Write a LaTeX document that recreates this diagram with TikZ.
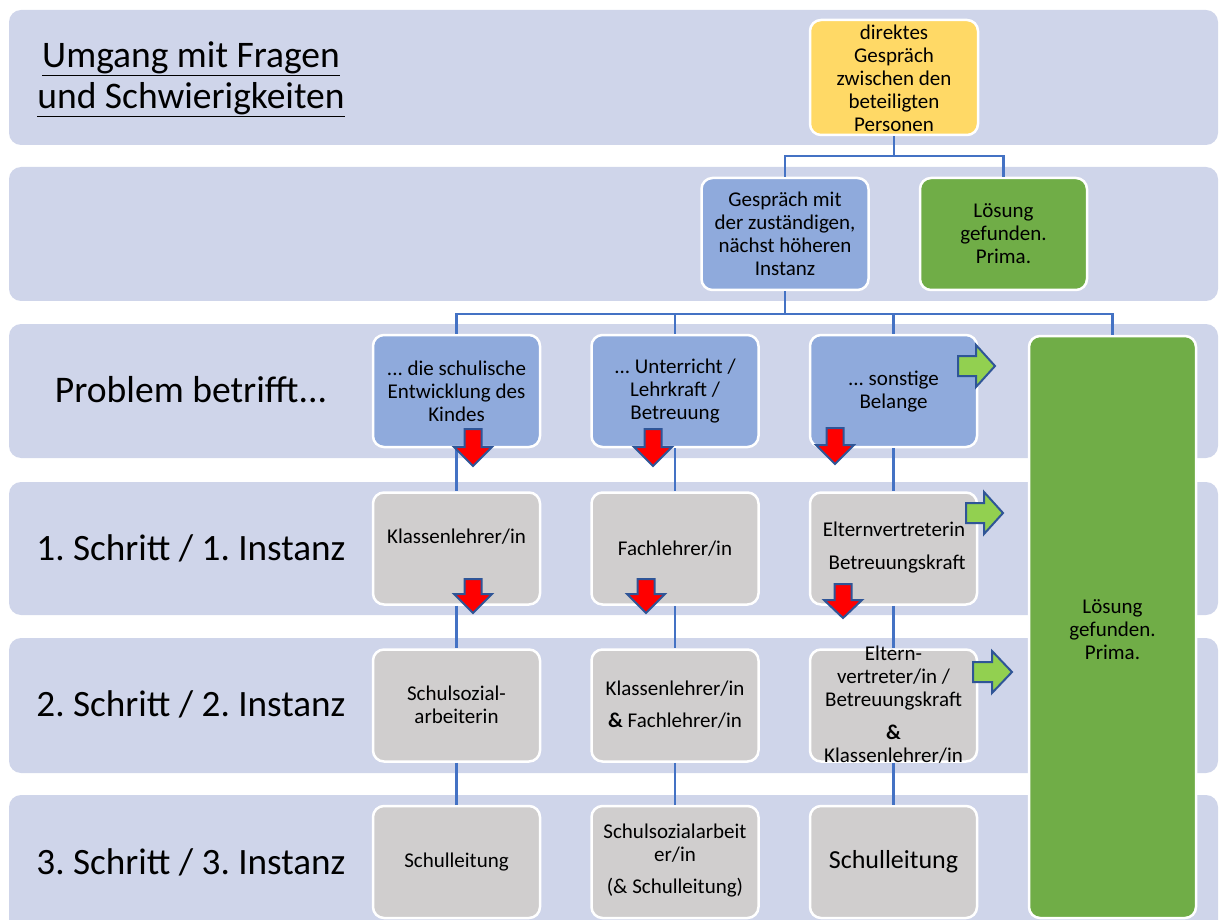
\documentclass[tikz,border=0pt]{standalone}
\usepackage{fontspec}
\setmainfont{Carlito}
\frenchspacing
\definecolor{bandc}{HTML}{CFD5EA}
\definecolor{bluebox}{HTML}{8FAADC}
\definecolor{graybox}{HTML}{D0CECE}
\definecolor{yellowbox}{HTML}{FFD966}
\definecolor{greenbox}{HTML}{70AD47}
\definecolor{connblue}{HTML}{4472C4}
\definecolor{arrowedge}{HTML}{2F5597}
\definecolor{greenarr}{HTML}{92D050}
\newcommand{\DArrow}[4]{%
  \draw[downarr] ({#1-8.5},#2) -- ({#1+8.5},#2) -- ({#1+8.5},#3) -- ({#1+19},#3) -- (#1,#4) -- ({#1-19},#3) -- ({#1-8.5},#3) -- cycle;}
\newcommand{\RArrow}[4]{%
  \draw[rightarr] (#1,{#4-10}) -- (#2,{#4-10}) -- (#2,{#4-21}) -- (#3,#4) -- (#2,{#4+21}) -- (#2,{#4+10}) -- (#1,{#4+10}) -- cycle;}
\begin{document}
\begin{tikzpicture}[x=1pt,y=-1pt,
  bandbox/.style={fill=bandc, rounded corners=12pt},
  box/.style={draw=white, line width=2.5pt, rounded corners=11pt, minimum width=167pt, minimum height=112pt, inner sep=0pt},
  bluef/.style={box, fill=bluebox},
  grayf/.style={box, fill=graybox},
  txt/.style={align=center, font=\fontsize{21}{23}\selectfont, inner sep=0pt, text=black},
  bigtxt/.style={align=center, font=\fontsize{37.2}{41}\selectfont, inner sep=0pt, text=black},
  conn/.style={draw=connblue, line width=2.5pt},
  downarr/.style={fill=red, draw=arrowedge, line width=2pt, line join=miter},
  rightarr/.style={fill=greenarr, draw=arrowedge, line width=2pt, line join=miter}]
\useasboundingbox (0,0) rectangle (1219,920);
\clip (0,0) rectangle (1219,920);
% bands
\fill[bandbox] (9,10) rectangle (1218,145);
\fill[bandbox] (9,167) rectangle (1218,301);
\fill[bandbox] (9,324) rectangle (1218,458);
\fill[bandbox] (9,482) rectangle (1218,615);
\fill[bandbox] (9,638) rectangle (1218,773);
\fill[bandbox] (9,795) rectangle (1218,940);
% row labels
\node[bigtxt, font=\fontsize{37.5}{41}\selectfont] (title) at (191,79) {\underline{Umgang mit Fragen}\\\underline{und Schwierigkeiten}};
\node[bigtxt, font=\fontsize{37.6}{41}\selectfont] (lab3) at (191,390) {Problem betrifft...};
\node[bigtxt] (lab4) at (191,548) {1. Schritt / 1. Instanz};
\node[bigtxt] (lab5) at (191,704) {2. Schritt / 2. Instanz};
\node[bigtxt] (lab6) at (191,862) {3. Schritt / 3. Instanz};
% boxes
\node[box, fill=yellowbox, minimum height=115pt, minimum width=168pt] (yel) at (894,77.5) {};
\node[bluef] (gesp) at (785,234) {};
\node[box, fill=greenbox] (loes1) at (1003.5,234) {};
\node[bluef] (a3) at (456.5,391) {};
\node[bluef] (b3) at (675,391) {};
\node[bluef] (c3) at (893.5,391) {};
\node[box, fill=greenbox, minimum height=582pt] (big) at (1112.5,627) {};
\node[grayf] (a4) at (456.5,548.5) {};
\node[grayf] (b4) at (675,548.5) {};
\node[grayf] (c4) at (893.5,548.5) {};
\node[grayf] (a5) at (456.5,705.5) {};
\node[grayf] (b5) at (675,705.5) {};
\node[grayf] (c5) at (893.5,705.5) {};
\node[grayf] (a6) at (456.5,862) {};
\node[grayf] (b6) at (675,862) {};
\node[grayf] (c6) at (893.5,862) {};
% connectors
\draw[conn] (yel.south) -- ++(0,20) -| (gesp.north);
\draw[conn] (yel.south) -- ++(0,20) -| (loes1.north);
\draw[conn] (gesp.south) -- ++(0,23) -| (a3.north);
\draw[conn] (gesp.south) -- ++(0,23) -| (b3.north);
\draw[conn] (gesp.south) -- ++(0,23) -| (c3.north);
\draw[conn] (gesp.south) -- ++(0,23) -| (big.north);
\draw[conn] (a3.south) -- (a4.north);
\draw[conn] (a4.south) -- (a5.north);
\draw[conn] (a5.south) -- (a6.north);
\draw[conn] (b3.south) -- (b4.north);
\draw[conn] (b4.south) -- (b5.north);
\draw[conn] (b5.south) -- (b6.north);
\draw[conn] (c3.south) -- (c4.north);
\draw[conn] (c4.south) -- (c5.north);
\draw[conn] (c5.south) -- (c6.north);
% texts
\node[txt] (yelt) at (894,78) {direktes\\Gespräch\\zwischen den\\beteiligten\\Personen};
\node[txt] (gespt) at (785,234) {Gespräch mit\\der zuständigen,\\nächst höheren\\Instanz};
\node[txt] (loes1t) at (1003.5,234) {Lösung\\gefunden.\\Prima.};
\node[txt] (a3t) at (456.5,391) {... die schulische\\Entwicklung des\\Kindes};
\node[txt] (b3t) at (675,391) {... Unterricht /\\Lehrkraft /\\Betreuung};
\node[txt] (c3t) at (893.5,392) {... sonstige\\Belange};
\node[txt] (bigt) at (1112.5,630) {Lösung\\gefunden.\\Prima.};
\node[txt] (a4t) at (456.5,537) {Klassenlehrer/in};
\node[txt] (b4t) at (675,549) {Fachlehrer/in};
\node[txt] (c4t) at (894,548) {Elternvertreterin\\[10pt]\hspace*{6pt}Betreuungskraft};
\node[txt] (a5t) at (456.5,705) {Schulsozial-\\arbeiterin};
\node[txt] (b5t) at (675,705) {Klassenlehrer/in\\[9pt]\textbf{\&} Fachlehrer/in};
\node[txt] (c5t) at (893.5,705) {Eltern-\\vertreter/in /\\Betreuungskraft\\[10pt]\textbf{\&}\\Klassenlehrer/in};
\node[txt] (a6t) at (456.5,862) {Schulleitung};
\node[txt] (b6t) at (675,861) {Schulsozialarbeit\\er/in\\[9pt](\& Schulleitung)};
\node[txt, font=\fontsize{26}{30}\selectfont] (c6t) at (893.5,862) {Schulleitung};
% arrows
\DArrow{473}{429}{447}{466}
\DArrow{653}{429}{447}{466}
\DArrow{835}{428}{445}{464}
\DArrow{473}{579}{594}{613}
\DArrow{646}{579}{594}{613}
\DArrow{843}{584}{600}{618}
\RArrow{958}{976}{995}{366}
\RArrow{966}{984}{1003}{513}
\RArrow{973}{992}{1012}{672}
\end{tikzpicture}
\end{document}
